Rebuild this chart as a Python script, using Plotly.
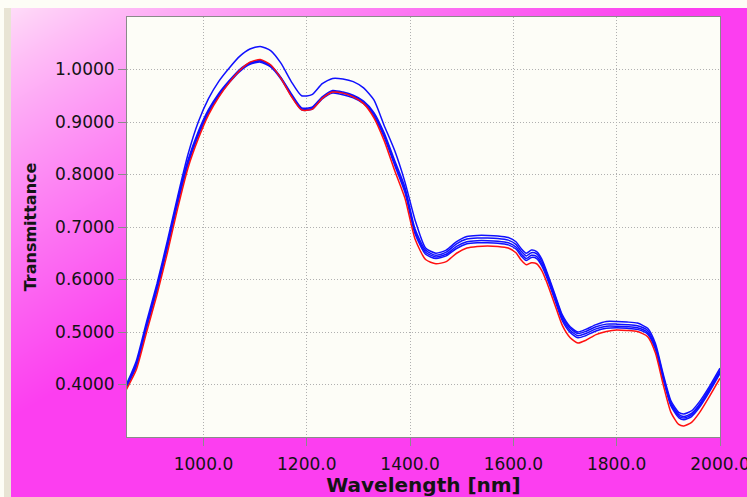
import base64
import struct
import zlib

import numpy as np
import plotly.graph_objects as go

# ---------------- data ----------------
WAVELENGTH = [850, 870, 890, 910, 930, 950, 970, 990, 1010, 1030, 1050, 1070, 1090, 1110,
              1130, 1150, 1170, 1190, 1210, 1230, 1250, 1270, 1290, 1310, 1330, 1350, 1370,
              1390, 1410, 1430, 1450, 1470, 1490, 1510, 1530, 1550, 1570, 1590, 1605, 1615,
              1625, 1635, 1645, 1655, 1665, 1680, 1695, 1710, 1725, 1740, 1760, 1780, 1800,
              1820, 1840, 1860, 1875, 1890, 1905, 1920, 1930, 1945, 1960, 1980, 2000]

SAMPLE_BLUE_1 = [0.398, 0.445, 0.520, 0.592, 0.673, 0.758, 0.838, 0.900, 0.945, 0.978, 1.003,
                 1.025, 1.039, 1.044, 1.036, 1.012, 0.977, 0.950, 0.952, 0.973, 0.983, 0.982,
                 0.977, 0.965, 0.942, 0.893, 0.846, 0.786, 0.712, 0.660, 0.650, 0.656, 0.672,
                 0.682, 0.684, 0.684, 0.683, 0.680, 0.672, 0.659, 0.650, 0.656, 0.653, 0.639,
                 0.614, 0.573, 0.532, 0.510, 0.500, 0.505, 0.514, 0.520, 0.520, 0.519, 0.517,
                 0.507, 0.478, 0.420, 0.369, 0.347, 0.344, 0.350, 0.367, 0.397, 0.431]

SAMPLE_BLUE_2 = [0.394, 0.437, 0.511, 0.582, 0.663, 0.748, 0.823, 0.878, 0.921, 0.952, 0.977,
                 0.998, 1.012, 1.016, 1.007, 0.984, 0.952, 0.925, 0.926, 0.946, 0.958, 0.955,
                 0.949, 0.938, 0.915, 0.875, 0.822, 0.771, 0.690, 0.652, 0.643, 0.648, 0.663,
                 0.672, 0.674, 0.674, 0.673, 0.670, 0.662, 0.649, 0.640, 0.646, 0.644, 0.630,
                 0.607, 0.566, 0.525, 0.503, 0.493, 0.497, 0.506, 0.511, 0.511, 0.510, 0.508,
                 0.499, 0.470, 0.413, 0.362, 0.340, 0.336, 0.342, 0.359, 0.390, 0.424]

SAMPLE_BLUE_3 = [0.396, 0.440, 0.514, 0.586, 0.667, 0.752, 0.827, 0.882, 0.924, 0.955, 0.979,
                 1.000, 1.013, 1.017, 1.008, 0.985, 0.954, 0.927, 0.928, 0.948, 0.960, 0.957,
                 0.951, 0.940, 0.918, 0.879, 0.827, 0.776, 0.695, 0.656, 0.646, 0.652, 0.668,
                 0.677, 0.679, 0.679, 0.678, 0.675, 0.667, 0.654, 0.645, 0.651, 0.649, 0.635,
                 0.611, 0.570, 0.529, 0.507, 0.497, 0.501, 0.510, 0.515, 0.515, 0.514, 0.512,
                 0.503, 0.474, 0.416, 0.365, 0.343, 0.339, 0.345, 0.362, 0.393, 0.427]

SAMPLE_BLUE_4 = [0.393, 0.434, 0.508, 0.579, 0.659, 0.744, 0.819, 0.874, 0.918, 0.950, 0.975,
                 0.996, 1.010, 1.014, 1.005, 0.982, 0.950, 0.923, 0.924, 0.944, 0.955, 0.952,
                 0.946, 0.935, 0.911, 0.871, 0.818, 0.766, 0.686, 0.648, 0.640, 0.645, 0.659,
                 0.668, 0.670, 0.670, 0.669, 0.666, 0.658, 0.645, 0.636, 0.642, 0.640, 0.626,
                 0.603, 0.562, 0.521, 0.499, 0.489, 0.493, 0.502, 0.507, 0.508, 0.507, 0.505,
                 0.496, 0.467, 0.410, 0.359, 0.337, 0.333, 0.339, 0.356, 0.387, 0.421]

SAMPLE_RED = [0.389, 0.428, 0.500, 0.571, 0.650, 0.735, 0.812, 0.868, 0.914, 0.948, 0.975,
              0.998, 1.014, 1.019, 1.009, 0.983, 0.949, 0.923, 0.924, 0.945, 0.957, 0.955,
              0.948, 0.935, 0.908, 0.864, 0.808, 0.755, 0.676, 0.638, 0.630, 0.634, 0.650,
              0.660, 0.663, 0.664, 0.663, 0.660, 0.651, 0.637, 0.628, 0.632, 0.630, 0.617,
              0.594, 0.553, 0.512, 0.489, 0.479, 0.484, 0.495, 0.501, 0.504, 0.503, 0.501,
              0.491, 0.460, 0.400, 0.347, 0.324, 0.321, 0.328, 0.346, 0.378, 0.412]

X_TICKS = [1000, 1200, 1400, 1600, 1800, 2000]
Y_TICKS = [0.4, 0.5, 0.6, 0.7, 0.8, 0.9, 1.0]

# ---------------- geometry ----------------
W, H = 747, 497
ML, MR, MT, MB = 127, 27, 17, 60
PW, PH = W - ML - MR, H - MT - MB


def png_data_uri(rgb):
    h, w, _ = rgb.shape
    raw = b"".join(b"\x00" + rgb[y].tobytes() for y in range(h))

    def chunk(tag, data):
        c = struct.pack(">I", len(data)) + tag + data
        return c + struct.pack(">I", zlib.crc32(tag + data) & 0xFFFFFFFF)

    png = (b"\x89PNG\r\n\x1a\n"
           + chunk(b"IHDR", struct.pack(">IIBBBBB", w, h, 8, 2, 0, 0, 0))
           + chunk(b"IDAT", zlib.compress(raw, 9))
           + chunk(b"IEND", b""))
    return "data:image/png;base64," + base64.b64encode(png).decode()


# pink gradient window background
yy, xx = np.mgrid[0:H, 0:W].astype(float)
u = xx / W
v = yy / H
t = np.clip((u * 0.95 + v * 1.05) / 0.9, 0, 1) ** 0.8
light = np.array([255, 232, 249], dtype=float)
dark = np.array([252, 62, 240], dtype=float)
img = light + (dark - light) * t[..., None]
img[:8, :] = (253, 253, 246)
img[:, :4] = (253, 253, 246)
img[8:, 4:11] = (232, 228, 212)
bg_uri = png_data_uri(np.clip(img, 0, 255).astype(np.uint8))

fig = go.Figure()

series = [
    (SAMPLE_BLUE_1, "#1010FF"),
    (SAMPLE_BLUE_3, "#1010FF"),
    (SAMPLE_BLUE_2, "#1010FF"),
    (SAMPLE_BLUE_4, "#1010FF"),
    (SAMPLE_RED, "#FF1010"),
]
for ys, col in series:
    fig.add_trace(go.Scatter(
        x=WAVELENGTH, y=ys, mode="lines",
        line=dict(color=col, width=1.5, shape="spline", smoothing=0.6),
        showlegend=False, hoverinfo="skip"))

fig.add_layout_image(dict(
    source=bg_uri, xref="paper", yref="paper",
    x=-ML / PW, y=1 + MT / PH, sizex=W / PW, sizey=H / PH,
    xanchor="left", yanchor="top", sizing="stretch", layer="below"))

fig.add_shape(type="rect", xref="paper", yref="paper", x0=0, x1=1, y0=0, y1=1,
              fillcolor="#FDFDF7", line=dict(width=0), layer="below")

axis_common = dict(
    showgrid=True, gridcolor="#B0B0B0", griddash="1px,2px", gridwidth=1,
    showline=True, linecolor="#8A8A8A", linewidth=1, mirror=True,
    ticks="outside", ticklen=8, tickcolor="#8A8A8A", tickwidth=1,
    tickfont=dict(family="DejaVu Sans", size=17, color="#141414"),
    zeroline=False, automargin=False, ticklabeloverflow="allow",
)

fig.update_layout(
    width=W, height=H,
    margin=dict(l=ML, r=MR, t=MT, b=MB),
    paper_bgcolor="#FF40F0",
    plot_bgcolor="rgba(0,0,0,0)",
    xaxis=dict(
        range=[852, 2000], tickvals=X_TICKS, tickformat=".1f", ticklabelstandoff=4,
        title=dict(text="Wavelength [nm]", standoff=8,
                   font=dict(family="DejaVu Sans", size=20, weight="bold", color="#141414")),
        **axis_common),
    yaxis=dict(
        range=[0.30, 1.10], tickvals=Y_TICKS, tickformat=".4f",
        title=dict(text="Transmittance", standoff=14,
                   font=dict(family="DejaVu Sans", size=16, weight="bold", color="#141414")),
        **axis_common),
)

fig.write_html("out.html", config={"displayModeBar": False},
               post_script="document.body.style.margin='0';")
